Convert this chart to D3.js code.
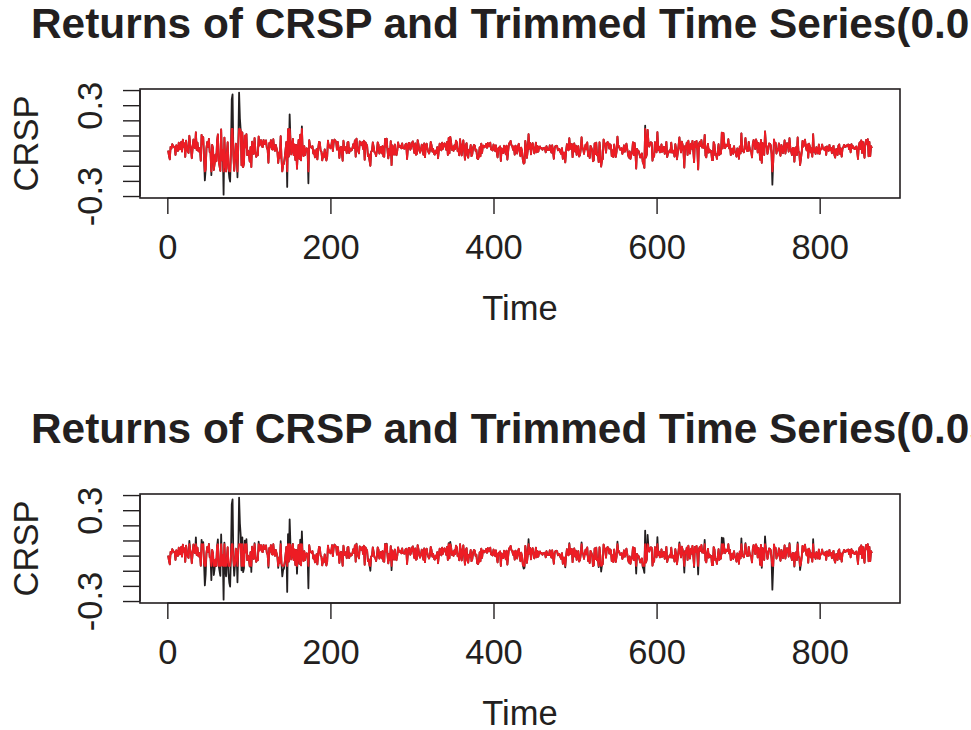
<!DOCTYPE html>
<html><head><meta charset="utf-8">
<script src="https://cdn.jsdelivr.net/npm/d3@7"></script>
<style>
html,body{margin:0;padding:0;background:#fff;}
svg{display:block;font-family:"Liberation Sans",Arial,Helvetica,sans-serif;}
</style></head>
<body><svg id="chart" width="971" height="730"></svg>
<script>
// Monthly CRSP returns, Jan 1926 - Dec 1997
const crsp1926_1949 = [
 0.000,-0.033,-0.058, 0.025, 0.014, 0.042, 0.032, 0.025, 0.025,-0.028, 0.035, 0.020,
-0.002, 0.052, 0.009, 0.010, 0.058,-0.006, 0.072, 0.026, 0.048,-0.041, 0.066, 0.026,
-0.004,-0.015, 0.098, 0.040, 0.014,-0.050, 0.013, 0.073, 0.027, 0.017, 0.121, 0.005,
 0.052,-0.002,-0.006, 0.018,-0.066, 0.104, 0.044, 0.089,-0.047,-0.197,-0.125, 0.018,
 0.058, 0.025, 0.077,-0.010,-0.015,-0.162, 0.038, 0.014,-0.128,-0.086,-0.027,-0.070,
 0.063, 0.107,-0.067,-0.100,-0.134, 0.140,-0.064, 0.004,-0.291, 0.086,-0.089,-0.137,
-0.022, 0.055,-0.117,-0.179,-0.205,-0.004, 0.338, 0.371,-0.029,-0.133,-0.056, 0.046,
 0.008,-0.176, 0.033, 0.383, 0.214, 0.133,-0.097, 0.120,-0.109,-0.084, 0.099, 0.022,
 0.108,-0.030, 0.000,-0.022,-0.072, 0.023,-0.108, 0.059,-0.004,-0.022, 0.083, 0.004,
-0.041,-0.020,-0.031, 0.093, 0.034, 0.066, 0.069, 0.027, 0.024, 0.070, 0.045, 0.044,
 0.067, 0.020, 0.007,-0.080, 0.050, 0.027, 0.069, 0.011, 0.007, 0.075, 0.012,-0.001,
 0.038, 0.015,-0.008,-0.081,-0.015,-0.046, 0.095,-0.054,-0.137,-0.096,-0.086,-0.044,
 0.006, 0.058,-0.240, 0.141,-0.039, 0.240, 0.072,-0.025, 0.012, 0.077,-0.030, 0.040,
-0.061, 0.037,-0.119,-0.003, 0.071,-0.054, 0.105,-0.064, 0.160,-0.006,-0.036, 0.029,
-0.029, 0.011, 0.015, 0.002,-0.216, 0.069, 0.032, 0.026, 0.018, 0.029,-0.019, 0.002,
-0.044,-0.015, 0.010,-0.058, 0.011, 0.057, 0.055,-0.001,-0.007,-0.064,-0.021,-0.044,
 0.008,-0.020,-0.065,-0.043, 0.066, 0.024, 0.033, 0.015, 0.026, 0.069,-0.003, 0.052,
 0.073, 0.064, 0.060, 0.007, 0.057, 0.020,-0.049, 0.013, 0.025,-0.011,-0.067, 0.065,
 0.018, 0.003, 0.023,-0.017, 0.053, 0.057,-0.016, 0.014, 0.000, 0.002, 0.016, 0.042,
 0.018, 0.067,-0.040, 0.079, 0.017, 0.000,-0.018, 0.061, 0.050, 0.038, 0.056, 0.011,
 0.065,-0.060, 0.055, 0.042, 0.034,-0.036,-0.025,-0.066,-0.100,-0.006,-0.002, 0.054,
 0.024,-0.010,-0.015,-0.036,-0.004, 0.054, 0.039,-0.019,-0.006, 0.024,-0.018, 0.030,
-0.038,-0.040, 0.077, 0.028, 0.079, 0.001,-0.051, 0.011,-0.030, 0.063,-0.096, 0.034,
 0.003,-0.027, 0.040,-0.018,-0.030, 0.000, 0.054, 0.024, 0.026, 0.032, 0.015, 0.048];
const crsp1950_1973 = [
 0.017, 0.015, 0.013, 0.040, 0.046,-0.055, 0.015, 0.049, 0.051, 0.006, 0.021, 0.051,
 0.061, 0.014,-0.017, 0.048,-0.027,-0.022, 0.069, 0.043, 0.002,-0.013, 0.005, 0.039,
 0.016,-0.027, 0.048,-0.043, 0.031, 0.046, 0.012,-0.007,-0.019, 0.001, 0.057, 0.035,
-0.006, 0.011,-0.020,-0.026, 0.000,-0.015, 0.023,-0.050, 0.003, 0.046, 0.030, 0.002,
 0.053, 0.012, 0.039, 0.048, 0.034, 0.005, 0.057,-0.028, 0.083,-0.017, 0.091, 0.054,
 0.005, 0.026,-0.002, 0.035, 0.011, 0.066, 0.055,-0.004, 0.010,-0.031, 0.076, 0.012,
-0.032, 0.037, 0.068, 0.002,-0.060, 0.037, 0.049,-0.032,-0.046, 0.006,-0.005, 0.037,
-0.036,-0.023, 0.021, 0.037, 0.033,-0.002, 0.006,-0.050,-0.056,-0.040, 0.022,-0.037,
 0.046,-0.015, 0.033, 0.033, 0.022, 0.029, 0.044, 0.018, 0.050, 0.028, 0.030, 0.053,
 0.008, 0.006, 0.001, 0.040, 0.020,-0.002, 0.035,-0.012,-0.045, 0.014, 0.019, 0.028,
-0.069, 0.014,-0.014,-0.016, 0.032, 0.022,-0.024, 0.032,-0.059,-0.003, 0.047, 0.048,
 0.064, 0.036, 0.030, 0.005, 0.027,-0.026, 0.032, 0.025,-0.019, 0.029, 0.045, 0.002,
-0.037, 0.019,-0.005,-0.062,-0.086,-0.081, 0.064, 0.020,-0.048, 0.003, 0.108, 0.013,
 0.051,-0.024, 0.033, 0.049, 0.018,-0.018,-0.002, 0.053,-0.011, 0.030,-0.006, 0.024,
 0.027, 0.015, 0.017, 0.006, 0.016, 0.016, 0.019,-0.011, 0.029, 0.009, 0.003, 0.004,
 0.035, 0.006,-0.013, 0.035,-0.005,-0.054, 0.016, 0.030, 0.032, 0.030, 0.002, 0.011,
 0.009,-0.010,-0.022, 0.016,-0.054,-0.013,-0.013,-0.078,-0.007, 0.042, 0.010, 0.002,
 0.082, 0.011, 0.042, 0.044,-0.043, 0.024, 0.048,-0.006, 0.033,-0.028, 0.007, 0.030,
-0.039,-0.031, 0.006, 0.088, 0.021, 0.010,-0.021, 0.017, 0.040, 0.008, 0.054,-0.035,
-0.008,-0.049, 0.031, 0.019, 0.003,-0.070,-0.064, 0.047,-0.023, 0.053,-0.031,-0.021,
-0.076, 0.055,-0.003,-0.105,-0.064,-0.055, 0.073, 0.050, 0.042,-0.013, 0.047, 0.057,
 0.049, 0.014, 0.041, 0.035,-0.036, 0.001,-0.043, 0.040,-0.006,-0.042,-0.003, 0.092,
 0.026, 0.029, 0.007, 0.006, 0.016,-0.022,-0.004, 0.035,-0.007, 0.009, 0.046, 0.011,
-0.027,-0.046,-0.005,-0.054,-0.024,-0.011, 0.055,-0.030, 0.051, 0.000,-0.118, 0.011];
const crsp1974_1997 = [
-0.002,-0.003,-0.024,-0.045,-0.036,-0.019,-0.074,-0.087,-0.114, 0.165,-0.045,-0.024,
 0.137, 0.056, 0.027, 0.047, 0.055, 0.052,-0.066,-0.023,-0.040, 0.056, 0.029,-0.011,
 0.122, 0.005, 0.026,-0.011,-0.010, 0.041,-0.007, 0.000, 0.025,-0.021, 0.004, 0.058,
-0.042,-0.017,-0.011, 0.002,-0.011, 0.053,-0.013,-0.012, 0.000,-0.039, 0.043, 0.005,
-0.057,-0.014, 0.034, 0.087, 0.018,-0.012, 0.059, 0.037,-0.006,-0.112, 0.030, 0.017,
 0.052,-0.029, 0.065, 0.003,-0.019, 0.045, 0.013, 0.064, 0.000,-0.076, 0.058, 0.023,
 0.064, 0.003,-0.124, 0.045, 0.058, 0.032, 0.070, 0.020, 0.030, 0.019, 0.104,-0.033,
-0.044, 0.016, 0.044,-0.013, 0.007,-0.008,-0.003,-0.063,-0.063, 0.056, 0.040,-0.030,
-0.024,-0.055,-0.009, 0.042,-0.028,-0.019,-0.019, 0.119, 0.015, 0.116, 0.049, 0.016,
 0.039, 0.029, 0.033, 0.075, 0.015, 0.038,-0.030, 0.000, 0.013,-0.021, 0.029,-0.010,
-0.013,-0.040, 0.015, 0.004,-0.054, 0.027,-0.018, 0.114,-0.001, 0.000,-0.011, 0.024,
 0.083, 0.017,-0.002,-0.003, 0.058, 0.017,-0.002,-0.005,-0.045, 0.044, 0.070, 0.045,
 0.010, 0.074, 0.054,-0.012, 0.051, 0.016,-0.060, 0.070,-0.080, 0.050, 0.017,-0.029,
 0.127, 0.045, 0.024,-0.022, 0.007, 0.047, 0.045, 0.036,-0.022,-0.225,-0.077, 0.073,
 0.043, 0.051,-0.019, 0.010, 0.002, 0.048,-0.008,-0.034, 0.038, 0.019,-0.017, 0.017,
 0.068,-0.019, 0.021, 0.049, 0.040,-0.006, 0.082, 0.020,-0.004,-0.029, 0.017, 0.016,
-0.073, 0.015, 0.022,-0.030, 0.087,-0.005,-0.012,-0.095,-0.054,-0.009, 0.064, 0.027,
 0.047, 0.072, 0.027, 0.002, 0.040,-0.046, 0.046, 0.025,-0.012, 0.015,-0.040, 0.108,
-0.006, 0.012,-0.022, 0.023, 0.004,-0.019, 0.040,-0.021, 0.011, 0.009, 0.040, 0.015,
 0.010, 0.004, 0.023,-0.028, 0.028, 0.005,-0.001, 0.038, 0.003, 0.017,-0.017, 0.018,
 0.031,-0.027,-0.046, 0.008, 0.010,-0.029, 0.032, 0.041,-0.022, 0.015,-0.040, 0.011,
 0.023, 0.038, 0.025, 0.025, 0.035, 0.030, 0.040, 0.010, 0.037,-0.011, 0.042, 0.016,
 0.029, 0.014, 0.010, 0.022, 0.027,-0.005,-0.055, 0.033, 0.054, 0.012, 0.068,-0.015,
 0.057, 0.002,-0.047, 0.049, 0.070, 0.042, 0.075,-0.037, 0.058,-0.036, 0.030, 0.017];

// trimming bounds of the red series (lower, upper)
const trimBounds = [[-0.137, 0.143], [-0.068, 0.075]];
const panelTitles = [
  "Returns of CRSP and Trimmed Time Series(0.01)",
  "Returns of CRSP and Trimmed Time Series(0.05)"];
const xTickValues = [0, 200, 400, 600, 800];
const yTickValues = [-0.3, -0.2, -0.1, 0.0, 0.1, 0.2, 0.3, 0.4];
const yTickLabels = ["-0.3", "", "", "", "", "", "0.3", ""];
const xLabel = "Time", yLabel = "CRSP";

const crsp = crsp1926_1949.concat(crsp1950_1973, crsp1974_1997);
const n = crsp.length;

const ink = "#231f20", red = "#ed1c24";
const svg = d3.select("#chart");
const left = 140, right = 900, panelTop = [89, 494], boxH = 109;

const x = d3.scaleLinear().domain([1 - 0.04 * (n - 1), n + 0.04 * (n - 1)]).range([left, right]);

panelTitles.forEach((title, p) => {
  const top = panelTop[p], bottom = top + boxH;
  const y = d3.scaleLinear().domain([-0.313, 0.407]).range([bottom, top]);
  const g = svg.append("g");
  const [lo, hi] = trimBounds[p];
  const trimmed = crsp.map(v => Math.max(lo, Math.min(hi, v)));

  const line = d3.line().x((d, i) => x(i + 1)).y(d => y(d));
  g.append("path").datum(crsp).attr("d", line)
    .attr("fill", "none").attr("stroke", ink).attr("stroke-width", 1.8).attr("stroke-linejoin", "round");
  g.append("path").datum(trimmed).attr("d", line)
    .attr("fill", "none").attr("stroke", red).attr("stroke-width", 1.9).attr("stroke-linejoin", "round");

  g.append("rect").attr("x", left).attr("y", top).attr("width", right - left).attr("height", boxH)
    .attr("fill", "none").attr("stroke", ink).attr("stroke-width", 1.6);

  // x axis
  const xa = g.append("g").attr("transform", `translate(0,${bottom})`)
    .call(d3.axisBottom(x).tickValues(xTickValues).tickSize(16).tickPadding(21).tickFormat(d3.format("d")));
  xa.select(".domain").attr("stroke", ink).attr("stroke-width", 1.4)
    .attr("d", `M${x(0)},0H${x(800)}`);
  xa.selectAll(".tick line").attr("stroke", ink).attr("stroke-width", 1.4);
  xa.selectAll(".tick text").attr("fill", ink).attr("font-size", 34.5)
    .attr("font-family", "'Liberation Sans',Arial,sans-serif");

  // y axis
  const ya = g.append("g").attr("transform", `translate(${left},0)`)
    .call(d3.axisLeft(y).tickValues(yTickValues).tickSize(17).tickFormat((d, i) => yTickLabels[i]));
  ya.select(".domain").attr("stroke", ink).attr("stroke-width", 1.4)
    .attr("d", `M0,${y(-0.3)}V${y(0.4)}`);
  ya.selectAll(".tick line").attr("stroke", ink).attr("stroke-width", 1.4);
  ya.selectAll(".tick text").attr("fill", ink).attr("font-size", 34.5)
    .attr("font-family", "'Liberation Sans',Arial,sans-serif")
    .attr("x", null).attr("dy", null)
    .attr("text-anchor", "middle")
    .attr("transform", "translate(-38,0) rotate(-90)");

  // labels
  g.append("text").attr("x", (left + right) / 2).attr("y", bottom + 122)
    .attr("text-anchor", "middle").attr("font-size", 34.5).attr("fill", ink).text(xLabel);
  g.append("text").attr("transform", `translate(38,${(top + bottom) / 2}) rotate(-90)`)
    .attr("text-anchor", "middle").attr("font-size", 34.5).attr("fill", ink).text(yLabel);
  g.append("text").attr("x", 31).attr("y", top - 50.7)
    .attr("text-anchor", "start").attr("font-size", 42.4).attr("font-weight", "bold")
    .attr("fill", ink).text(title);
});
</script></body></html>
